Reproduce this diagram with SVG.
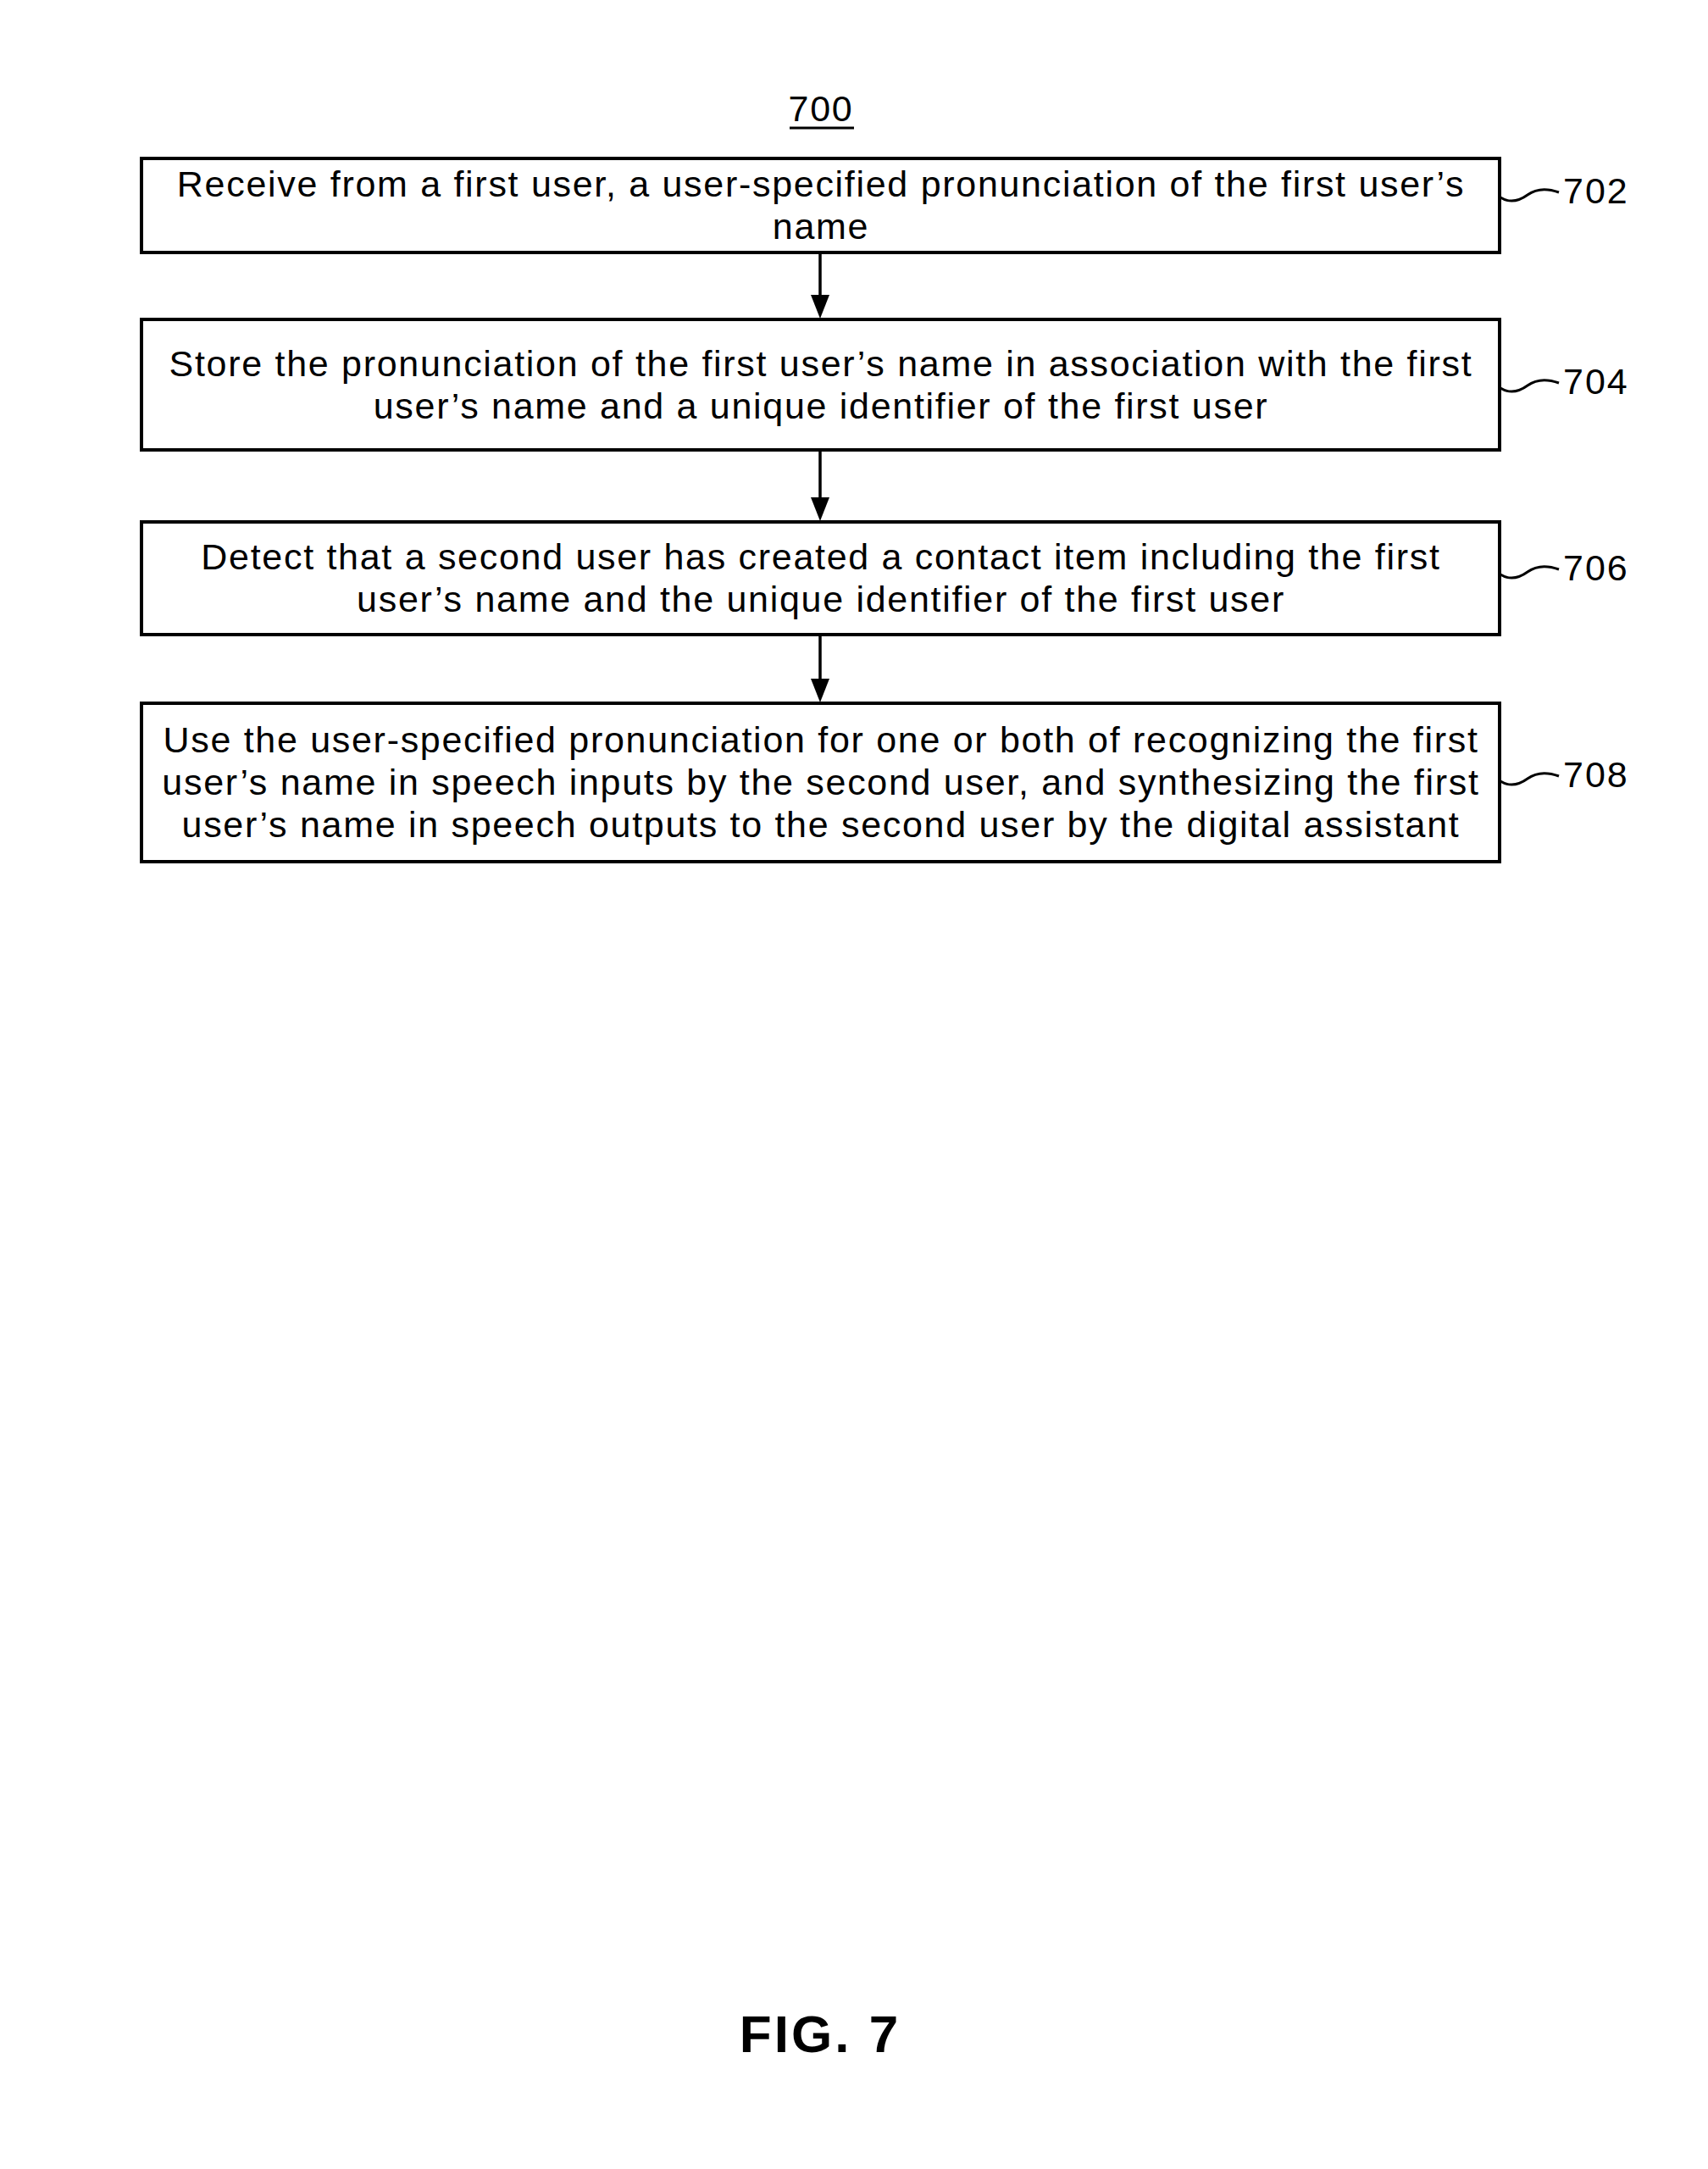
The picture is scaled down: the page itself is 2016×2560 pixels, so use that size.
<svg xmlns="http://www.w3.org/2000/svg" width="2016" height="2560" viewBox="0 0 2016 2560">
<style>
.box{fill:#fff;stroke:#000;stroke-width:4}
.t{font-family:"Liberation Sans",Arial,sans-serif;font-size:43px;letter-spacing:1.7px;fill:#000;text-anchor:middle}
.lbl{font-family:"Liberation Sans",Arial,sans-serif;font-size:43px;letter-spacing:2px;fill:#000}
.lead{fill:none;stroke:#000;stroke-width:3}
.conn{stroke:#000;stroke-width:3.5;fill:none}
</style>
<rect width="2016" height="2560" fill="#fff"/>
<g id="title">
<text x="969" y="143" class="t">700</text>
<line x1="932" y1="151" x2="1008" y2="151" stroke="#000" stroke-width="3"/>
</g>
<g id="connectors">
<line class="conn" x1="968" y1="298" x2="968" y2="350"/>
<path d="M957,348 L979,348 L968,376 Z" fill="#000"/>
<line class="conn" x1="968" y1="531" x2="968" y2="589"/>
<path d="M957,587 L979,587 L968,615 Z" fill="#000"/>
<line class="conn" x1="968" y1="749" x2="968" y2="803"/>
<path d="M957,801 L979,801 L968,829 Z" fill="#000"/>
</g>
<g id="n702">
<rect class="box" x="167" y="187" width="1603" height="111"/>
<text class="t" x="969" y="232">Receive from a first user, a user-specified pronunciation of the first user’s</text>
<text class="t" x="969" y="282">name</text>
<path class="lead" d="M1771,233 C1782,240 1792,238 1803,230 C1814,222 1826,222 1840,227"/>
<text class="lbl" x="1845" y="240">702</text>
</g>
<g id="n704">
<rect class="box" x="167" y="377" width="1603" height="154"/>
<text class="t" x="969" y="444">Store the pronunciation of the first user’s name in association with the first</text>
<text class="t" x="969" y="494">user’s name and a unique identifier of the first user</text>
<path class="lead" d="M1771,458 C1782,465 1792,463 1803,455 C1814,447 1826,447 1840,452"/>
<text class="lbl" x="1845" y="465">704</text>
</g>
<g id="n706">
<rect class="box" x="167" y="616" width="1603" height="133"/>
<text class="t" x="969" y="672">Detect that a second user has created a contact item including the first</text>
<text class="t" x="969" y="722">user’s name and the unique identifier of the first user</text>
<path class="lead" d="M1771,678 C1782,685 1792,683 1803,675 C1814,667 1826,667 1840,672"/>
<text class="lbl" x="1845" y="685">706</text>
</g>
<g id="n708">
<rect class="box" x="167" y="830" width="1603" height="187"/>
<text class="t" x="969" y="888">Use the user-specified pronunciation for one or both of recognizing the first</text>
<text class="t" x="969" y="938">user’s name in speech inputs by the second user, and synthesizing the first</text>
<text class="t" x="969" y="988">user’s name in speech outputs to the second user by the digital assistant</text>
<path class="lead" d="M1771,922 C1782,929 1792,927 1803,919 C1814,911 1826,911 1840,916"/>
<text class="lbl" x="1845" y="929">708</text>
</g>
<g id="figlabel">
<text x="968" y="2422" font-family="Liberation Sans,Arial,sans-serif" font-weight="bold" font-size="62" letter-spacing="3" text-anchor="middle">FIG. 7</text>
</g>
</svg>
